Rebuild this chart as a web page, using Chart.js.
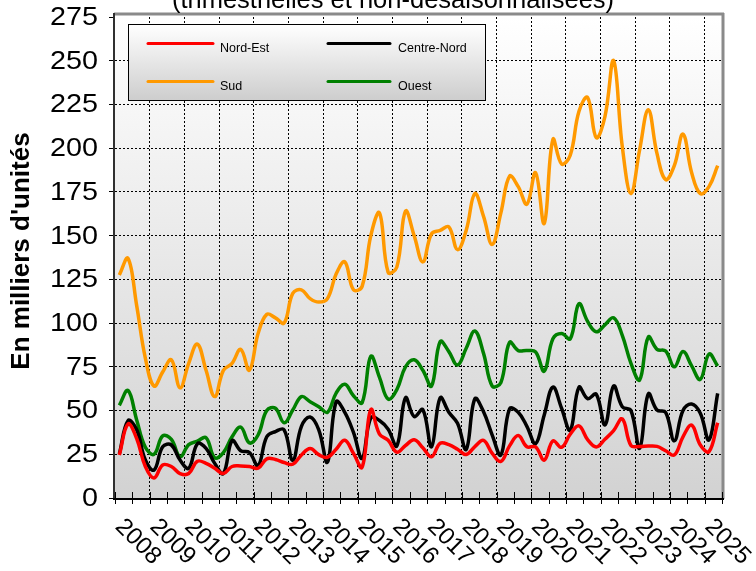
<!DOCTYPE html>
<html>
<head>
<meta charset="utf-8">
<style>
html,body{margin:0;padding:0;background:#fff;}
#wrap{width:756px;height:571px;overflow:hidden;}
canvas{display:block;}
</style>
<script src="https://cdn.jsdelivr.net/npm/chart.js@4.4.1/dist/chart.umd.min.js"></script>
</head>
<body>
<div id="wrap"><canvas id="c" width="756" height="571"></canvas></div>
<script>
// ---- Data (quarterly, 2008 T1 -> 2025 T2), thousands of units ----
const yearLabels = ['2008','2009','2010','2011','2012','2013','2014','2015','2016','2017','2018','2019','2020','2021','2022','2023','2024','2025'];
const seriesNames = ['Nord-Est','Centre-Nord','Sud','Ouest'];
const yTicks = [0,25,50,75,100,125,150,175,200,225,250,275];
const titleText = '(trimestrielles et non-désaisonnalisées)';
const yTitle = "En milliers d'unités";

const nordEst = [24.6,42.3,34,18,11.5,18.9,18,14,14,21,19.8,17,14,18,18.3,18,17,22.4,22,20.3,
  19.3,24.6,28.3,24.8,23.2,27.9,33,25.5,17.6,50.5,36.5,33,26.2,30,33.3,28.7,23.6,31.3,30.5,27.9,
  24.9,29.4,32.9,25.5,20.9,29.8,35.7,29.3,29.2,21.7,32.7,29,36.5,41.2,33.4,29.2,33.6,38.5,45.2,30,
  29.5,29.7,29.5,27,24.6,35,41.7,30.3,26.5,43];
const centreNord = [25.2,44.2,39,21.7,16,29.3,30.3,21.7,17,31,28.4,19.8,14,32.8,27,26,18.5,35,38,39,
  21.5,41,46.3,39,20.5,55,49,37.5,22.7,45.8,44.3,39.3,29.8,57.3,46.5,50.5,29.3,57.3,49,42.7,
  27.8,56.7,49.3,36,24.6,51,49,41,31,47.5,63.4,51.3,38.7,63.3,56.8,59.3,41.8,64,52.2,50,
  28.4,59.5,50.3,49,32.7,50,53.7,48.4,33.2,59.8];
const sud = [127.5,137,110,80,64,72,79,63,77,88,73,58,73,77,85,73,94,105,103,100,
  117,119,114,112,114,128,135,119,121,150,163,129,132,164,150,135,151,153,155,142,
  153,174,161,145,163,184,178,168,186,157,205,191,196,221,229,206,218,250,201,174,
  199,222,197,182,190,208,186,174,178,190];
const ouest = [53,61.5,44.6,29,25,35.5,33.5,23.6,30.5,32.5,34.5,23,26,35,40.5,31.5,36,50,51.3,43,
  50.3,58,55,52.2,49,60,65,58.5,54.5,81,69,56.5,62,75,79,73,64,89.4,83.7,76,
  85.6,95.5,82.7,64,66,89,84.3,84.3,83.5,72.5,91,94,91,111,101,95,99,103,93,77,
  67.5,92,85,84,75,83.7,75.5,67.8,82.3,75.5];

const colors = ['#ff0000','#000000','#ff9900','#008000'];
const FONT = '"Liberation Sans", Arial, sans-serif';

function pts(arr){ return arr.map((v,i)=>({x:i+0.5, y:v})); }
const allSeries = [nordEst, centreNord, sud, ouest];

const deco = {
  id:'deco',
  beforeDraw(chart){
    const {ctx, chartArea:a} = chart;
    ctx.save();
    ctx.fillStyle = '#fff';
    ctx.fillRect(0,0,chart.width,chart.height);
    const g = ctx.createLinearGradient(0,a.top,0,a.bottom);
    g.addColorStop(0,'#ffffff');
    g.addColorStop(1,'#d2d2d2');
    ctx.fillStyle = g;
    ctx.fillRect(a.left, a.top-3, a.right-a.left, a.bottom-a.top+3);
    ctx.restore();
  },
  afterDraw(chart){
    const {ctx, chartArea:a} = chart;
    const xs = chart.scales.x, ys = chart.scales.y;
    ctx.save();
    // frame
    ctx.lineWidth = 3; ctx.strokeStyle = '#8a8a8a';
    ctx.beginPath(); ctx.moveTo(a.left-1, a.top-3); ctx.lineTo(a.right+2, a.top-3); ctx.stroke();
    ctx.beginPath(); ctx.moveTo(a.right+1, a.top-4); ctx.lineTo(a.right+1, a.bottom+1); ctx.stroke();
    ctx.lineWidth = 2; ctx.strokeStyle = '#303030';
    ctx.beginPath(); ctx.moveTo(a.left-1, a.top-4); ctx.lineTo(a.left-1, a.bottom+2); ctx.stroke();
    ctx.strokeStyle = '#000';
    ctx.beginPath(); ctx.moveTo(a.left-2, a.bottom+1); ctx.lineTo(a.right+2, a.bottom+1); ctx.stroke();
    // x tick marks (every half-year)
    ctx.lineWidth = 1; ctx.strokeStyle = '#000';
    for (let v = 0; v <= 70; v += 2) {
      const x = Math.round(xs.getPixelForValue(v)) + 0.5;
      ctx.beginPath(); ctx.moveTo(x, a.bottom-6); ctx.lineTo(x, a.bottom+6); ctx.stroke();
    }
    // y tick labels
    ctx.fillStyle = '#000';
    ctx.font = '25px ' + FONT;
    ctx.textAlign = 'right'; ctx.textBaseline = 'middle';
    yTicks.forEach(v => {
      const y = ys.getPixelForValue(v);
      ctx.save();
      ctx.translate(98, y + 1);
      ctx.scale(1.15, 1);
      ctx.fillText(String(v), 0, 0);
      ctx.restore();
    });
    // x labels, rotated
    ctx.font = '24px ' + FONT;
    ctx.textAlign = 'left'; ctx.textBaseline = 'middle';
    yearLabels.forEach((lab, k) => {
      const x = xs.getPixelForValue(k*4);
      ctx.save();
      ctx.translate(x + 4, a.bottom + 25);
      ctx.rotate(Math.PI/4);
      ctx.fillText(lab, 0, 0);
      ctx.restore();
    });
    // y title
    ctx.save();
    ctx.font = 'bold 26px ' + FONT;
    ctx.textAlign = 'center'; ctx.textBaseline = 'middle';
    ctx.translate(22, 251);
    ctx.rotate(-Math.PI/2);
    ctx.fillText(yTitle, 0, 0);
    ctx.restore();
    // top title (cut by the top edge)
    ctx.font = '25.5px ' + FONT;
    ctx.textAlign = 'center'; ctx.textBaseline = 'alphabetic';
    ctx.fillText(titleText, 393, 7.5);
    // legend box
    const L = 128.5, T = 24.5, R = 485.5, B = 100.5;
    const lg = ctx.createLinearGradient(0,T,0,B);
    lg.addColorStop(0,'#ffffff'); lg.addColorStop(1,'#cdcdcd');
    ctx.fillStyle = lg; ctx.fillRect(L,T,R-L,B-T);
    ctx.lineWidth = 1; ctx.strokeStyle = '#000'; ctx.strokeRect(L,T,R-L,B-T);
    const cols = [[148,213,220],[328,390,398]];
    const rows = [[43.5,51.5],[81.5,89.5]];
    ctx.font = '12.5px ' + FONT; ctx.textAlign='left'; ctx.textBaseline='alphabetic';
    chart.data.datasets.forEach((ds, i) => {
      const c = cols[i % 2], r = rows[Math.floor(i/2)];
      ctx.strokeStyle = ds.borderColor; ctx.lineWidth = 3; ctx.lineCap='round';
      ctx.beginPath(); ctx.moveTo(c[0], r[0]); ctx.lineTo(c[1], r[0]); ctx.stroke();
      ctx.fillStyle = '#000';
      ctx.fillText(ds.label, c[2], r[1]);
    });
    ctx.restore();
  }
};

new Chart(document.getElementById('c'), {
  type: 'line',
  data: {
    datasets: seriesNames.map((n,i)=>({
      label: n, data: pts(allSeries[i]), borderColor: colors[i], backgroundColor: colors[i],
      borderWidth: 3.5, pointRadius: 0, tension: 0.4, fill: false
    }))
  },
  options: {
    responsive: false, animation: false, devicePixelRatio: 1,
    layout: {padding: {top: 17, right: 34, left: 0, bottom: 0}},
    plugins: {legend: {display: false}, title: {display: false}, tooltip: {enabled: false}},
    scales: {
      x: {
        type: 'linear', min: 0, max: 70,
        afterFit: s => { s.height = 73; },
        ticks: {stepSize: 2, autoSkip: false, display: false},
        grid: {drawTicks: false, lineWidth: 1,
          color: c => (c.tick && c.tick.value % 4 === 0 && c.tick.value > 0 && c.tick.value < 70) ? '#000' : 'rgba(0,0,0,0)'},
        border: {display: false, dash: [2,2]}
      },
      y: {
        min: 0, max: 275,
        afterFit: s => { s.width = 115; },
        afterBuildTicks: s => { s.ticks = yTicks.map(v => ({value: v})); },
        ticks: {display: false},
        grid: {drawTicks: true, tickLength: 6, tickColor: '#000', lineWidth: 1,
          color: c => (c.tick && c.tick.value > 0 && c.tick.value < 275) ? '#000' : 'rgba(0,0,0,0)'},
        border: {display: false, dash: [2,2]}
      }
    }
  },
  plugins: [deco]
});
</script>
</body>
</html>
